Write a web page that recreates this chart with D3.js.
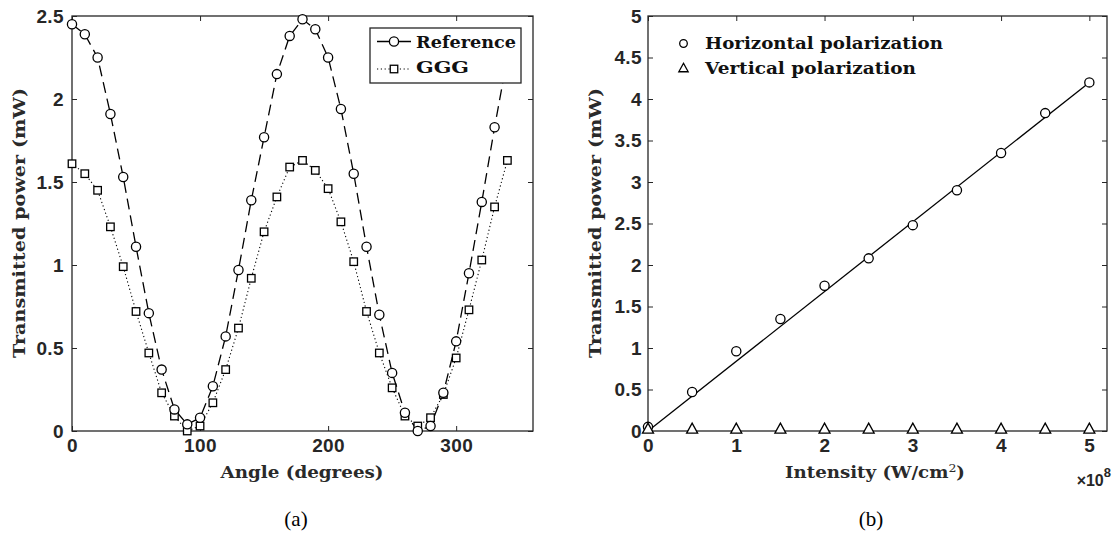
<!DOCTYPE html>
<html>
<head>
<meta charset="utf-8">
<script src="https://cdn.jsdelivr.net/npm/d3@7"></script>
<style>
  html, body { margin: 0; padding: 0; background: #fff; }
  svg { display: block; }
  .tick text { font-family: "Liberation Sans", Arial, sans-serif; font-weight: bold; font-size: 19px; letter-spacing: 0.4px; fill: #262626; }
  .tick line { stroke: #262626; stroke-width: 1; }
  .lbl { font-family: "DejaVu Serif", serif; font-weight: bold; font-size: 16px; fill: #2a2a2a; }
  .leg { font-family: "DejaVu Serif", serif; font-weight: bold; font-size: 17.5px; fill: #111; }
  .cap { font-family: "Liberation Serif", "Times New Roman", serif; font-size: 21px; fill: #000; }
</style>
</head>
<body>
<svg id="fig" width="1113" height="544"></svg>
<script>
// ---- panel (a): transmitted power versus polarizer angle ----
const angles = [0, 10, 20, 30, 40, 50, 60, 70, 80, 90, 100, 110, 120, 130, 140, 150, 160, 170,
                180, 190, 200, 210, 220, 230, 240, 250, 260, 270, 280, 290, 300, 310, 320, 330, 340];
const referencePower = [2.45, 2.39, 2.25, 1.91, 1.53, 1.11, 0.71, 0.37, 0.13, 0.04, 0.08, 0.27, 0.57, 0.97, 1.39, 1.77, 2.15, 2.38,
                        2.48, 2.42, 2.25, 1.94, 1.55, 1.11, 0.70, 0.35, 0.11, 0.00, 0.03, 0.23, 0.54, 0.95, 1.38, 1.83, 2.25];
const gggPower = [1.61, 1.55, 1.45, 1.23, 0.99, 0.72, 0.47, 0.23, 0.09, 0.00, 0.03, 0.17, 0.37, 0.62, 0.92, 1.20, 1.41, 1.59,
                  1.63, 1.57, 1.46, 1.26, 1.02, 0.72, 0.47, 0.26, 0.09, 0.03, 0.08, 0.22, 0.44, 0.73, 1.03, 1.35, 1.63];
const angleTicks = [0, 100, 200, 300];
const powerTicksA = [0, 0.5, 1, 1.5, 2, 2.5];

// ---- panel (b): transmitted power versus intensity (units of 1e8 W/cm^2) ----
const intensity = [0, 0.5, 1, 1.5, 2, 2.5, 3, 3.5, 4, 4.5, 5];
const horizontalPower = [0.05, 0.47, 0.96, 1.35, 1.75, 2.08, 2.48, 2.90, 3.35, 3.83, 4.20];
const verticalPower = [0.02, 0.02, 0.02, 0.02, 0.02, 0.02, 0.02, 0.02, 0.02, 0.02, 0.02];
const fitIntensity = [0, 5];
const fitPower = [0.0, 4.2];
const intensityTicks = [0, 1, 2, 3, 4, 5];
const powerTicksB = [0, 0.5, 1, 1.5, 2, 2.5, 3, 3.5, 4, 4.5, 5];

const svg = d3.select("#fig");
const INK = "#262626";
const fmt = d => String(d);

function boxAxes(g, x, y, xTicks, yTicks, yPad) {
  const [x0, x1] = x.range();
  const [y0, y1] = y.range();
  g.append("g").attr("transform", `translate(0,${y0})`)
    .call(d3.axisBottom(x).tickValues(xTicks).tickFormat(fmt).tickSizeInner(-5).tickSizeOuter(0).tickPadding(8))
    .call(a => a.select(".domain").remove());
  g.append("g").attr("transform", `translate(0,${y1})`)
    .call(d3.axisTop(x).tickValues(xTicks).tickFormat("").tickSizeInner(-5).tickSizeOuter(0))
    .call(a => a.select(".domain").remove());
  g.append("g").attr("transform", `translate(${x0},0)`)
    .call(d3.axisLeft(y).tickValues(yTicks).tickFormat(fmt).tickSizeInner(-5).tickSizeOuter(0).tickPadding(yPad))
    .call(a => a.select(".domain").remove());
  g.append("g").attr("transform", `translate(${x1},0)`)
    .call(d3.axisRight(y).tickValues(yTicks).tickFormat("").tickSizeInner(-5).tickSizeOuter(0))
    .call(a => a.select(".domain").remove());
  g.append("rect").attr("x", x0).attr("y", y1).attr("width", x1 - x0).attr("height", y0 - y1)
    .attr("fill", "none").attr("stroke", INK).attr("stroke-width", 1.3);
}

function circles(g, xs, ys, x, y, r) {
  g.selectAll(null).data(xs).enter().append("circle")
    .attr("cx", (d) => x(d)).attr("cy", (d, i) => y(ys[i])).attr("r", r)
    .attr("fill", "#fff").attr("stroke", "#000").attr("stroke-width", 1.3);
}
function squares(g, xs, ys, x, y, s) {
  g.selectAll(null).data(xs).enter().append("rect")
    .attr("x", d => x(d) - s / 2).attr("y", (d, i) => y(ys[i]) - s / 2)
    .attr("width", s).attr("height", s)
    .attr("fill", "#fff").attr("stroke", "#000").attr("stroke-width", 1.3);
}
const triPath = s => `M0,${-s * 0.62}L${s * 0.55},${s * 0.38}L${-s * 0.55},${s * 0.38}Z`;
function triangles(g, xs, ys, x, y, s) {
  g.selectAll(null).data(xs).enter().append("path")
    .attr("d", triPath(s))
    .attr("transform", (d, i) => `translate(${x(d)},${y(ys[i])})`)
    .attr("fill", "#fff").attr("stroke", "#000").attr("stroke-width", 1.3);
}

// ================= panel (a) =================
const xA = d3.scaleLinear().domain([0, 360]).range([72, 533]);
const yA = d3.scaleLinear().domain([0, 2.5]).range([431, 16]);
const gA = svg.append("g");
boxAxes(gA, xA, yA, angleTicks, powerTicksA, 8);

const lineA = (ys) => d3.line().x((d, i) => xA(angles[i])).y((d, i) => yA(ys[i]));
gA.append("path").datum(gggPower).attr("d", lineA(gggPower))
  .attr("fill", "none").attr("stroke", "#000").attr("stroke-width", 1.1).attr("stroke-dasharray", "1.2,2.6");
gA.append("path").datum(referencePower).attr("d", lineA(referencePower))
  .attr("fill", "none").attr("stroke", "#000").attr("stroke-width", 1.3).attr("stroke-dasharray", "11,6");
squares(gA, angles, gggPower, xA, yA, 7.5);
circles(gA, angles, referencePower, xA, yA, 4.6);

// legend (a)
const legA = gA.append("g");
legA.append("rect").attr("x", 370).attr("y", 28).attr("width", 151).attr("height", 55)
  .attr("fill", "#fff").attr("stroke", INK).attr("stroke-width", 1.3);
legA.append("line").attr("x1", 377).attr("x2", 411).attr("y1", 41.5).attr("y2", 41.5)
  .attr("stroke", "#000").attr("stroke-width", 1.3);
legA.append("circle").attr("cx", 394).attr("cy", 41.5).attr("r", 4.6)
  .attr("fill", "#fff").attr("stroke", "#000").attr("stroke-width", 1.3);
legA.append("line").attr("x1", 377).attr("x2", 411).attr("y1", 69).attr("y2", 69)
  .attr("stroke", "#000").attr("stroke-width", 1.1).attr("stroke-dasharray", "1.2,2.6");
legA.append("rect").attr("x", 394 - 3.75).attr("y", 69 - 3.75).attr("width", 7.5).attr("height", 7.5)
  .attr("fill", "#fff").attr("stroke", "#000").attr("stroke-width", 1.3);
legA.append("text").attr("class", "leg").attr("x", 416).attr("y", 48)
  .attr("textLength", 100).attr("lengthAdjust", "spacingAndGlyphs").text("Reference");
legA.append("text").attr("class", "leg").attr("x", 416).attr("y", 73)
  .attr("textLength", 53).attr("lengthAdjust", "spacingAndGlyphs").text("GGG");

svg.append("text").attr("class", "lbl").attr("x", 302).attr("y", 478).attr("text-anchor", "middle")
  .attr("textLength", 163).attr("lengthAdjust", "spacingAndGlyphs").text("Angle (degrees)");
svg.append("text").attr("class", "lbl").attr("transform", "translate(25,223) rotate(-90)")
  .attr("text-anchor", "middle").attr("textLength", 270).attr("lengthAdjust", "spacingAndGlyphs")
  .text("Transmitted power (mW)");
svg.append("text").attr("class", "cap").attr("x", 296).attr("y", 526).attr("text-anchor", "middle").text("(a)");

// ================= panel (b) =================
const xB = d3.scaleLinear().domain([0, 5.2]).range([648, 1107]);
const yB = d3.scaleLinear().domain([0, 5]).range([431, 16]);
const gB = svg.append("g");
boxAxes(gB, xB, yB, intensityTicks, powerTicksB, 6);

gB.append("path").datum(fitPower)
  .attr("d", d3.line().x((d, i) => xB(fitIntensity[i])).y((d) => yB(d)))
  .attr("fill", "none").attr("stroke", "#000").attr("stroke-width", 1.3);
circles(gB, intensity, horizontalPower, xB, yB, 4.6);
triangles(gB, intensity, verticalPower, xB, yB, 10);

// legend (b)
const legB = gB.append("g");
legB.append("circle").attr("cx", 683.5).attr("cy", 43.5).attr("r", 3.8)
  .attr("fill", "#fff").attr("stroke", "#000").attr("stroke-width", 1.3);
legB.append("path").attr("d", triPath(8.5)).attr("transform", "translate(683.5,68.5)")
  .attr("fill", "#fff").attr("stroke", "#000").attr("stroke-width", 1.3);
legB.append("text").attr("class", "leg").attr("x", 705).attr("y", 48.5)
  .attr("textLength", 238).attr("lengthAdjust", "spacingAndGlyphs").text("Horizontal polarization");
legB.append("text").attr("class", "leg").attr("x", 705).attr("y", 73.5)
  .attr("textLength", 211).attr("lengthAdjust", "spacingAndGlyphs").text("Vertical polarization");

const xl = svg.append("text").attr("class", "lbl").attr("x", 875).attr("y", 478).attr("text-anchor", "middle")
  .attr("textLength", 180).attr("lengthAdjust", "spacingAndGlyphs");
xl.append("tspan").text("Intensity (W/cm");
xl.append("tspan").attr("dy", -6).attr("font-size", "11px").attr("font-weight", "normal").text("2");
xl.append("tspan").attr("dy", 6).text(")");
svg.append("text").attr("class", "lbl").attr("transform", "translate(601,223) rotate(-90)")
  .attr("text-anchor", "middle").attr("textLength", 270).attr("lengthAdjust", "spacingAndGlyphs")
  .text("Transmitted power (mW)");

// axis exponent, right-aligned just inside the figure edge
const mult = svg.append("text").attr("x", 1111).attr("y", 486).attr("text-anchor", "end")
  .attr("font-family", "Liberation Sans, Arial, sans-serif").attr("font-weight", "bold")
  .attr("font-size", "16px").attr("fill", INK);
mult.append("tspan").text("\u00d710");
mult.append("tspan").attr("dy", -9).attr("font-size", "13px").text("8");

svg.append("text").attr("class", "cap").attr("x", 871).attr("y", 526).attr("text-anchor", "middle").text("(b)");
</script>
</body>
</html>
